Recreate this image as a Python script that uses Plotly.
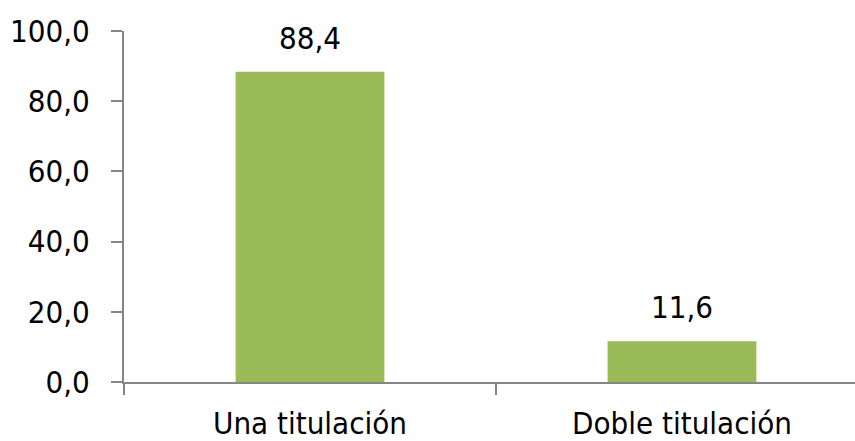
import plotly.graph_objects as go

categories = ["Una titulación", "Doble titulación"]
values = [88.4, 11.6]
value_labels = ["88,4", "11,6"]
y_ticks = [0, 20, 40, 60, 80, 100]
y_tick_labels = ["0,0", "20,0", "40,0", "60,0", "80,0", "100,0"]

FONT = "Liberation Sans Narrow, Arial Narrow, DejaVu Sans Condensed, sans-serif"
FS = 31

fig = go.Figure(go.Bar(
    x=categories, y=values, width=0.4,
    marker=dict(color="#9BBB59", line=dict(width=0)),
    hoverinfo="skip",
))

for cat, v, lab in zip(categories, values, value_labels):
    fig.add_annotation(
        x=cat, y=v, text=lab, showarrow=False,
        xanchor="center", yanchor="bottom", yshift=14,
        font=dict(family=FONT, size=FS, color="#000000"),
    )

fig.update_layout(
    width=855, height=441,
    margin=dict(l=124, r=0, t=31, b=59),
    paper_bgcolor="white", plot_bgcolor="white",
    showlegend=False,
    font=dict(family=FONT, size=FS, color="#000000"),
)
fig.update_xaxes(
    type="category",
    range=[-0.5, -0.5 + 731 / 372],
    showline=True, linecolor="#868686", linewidth=2,
    ticks="outside", ticklen=11, tickwidth=2, tickcolor="#868686",
    tickson="boundaries", showgrid=False, zeroline=False,
    automargin=False, ticklabelstandoff=13,
    tickfont=dict(family=FONT, size=FS, color="#000000"),
)
fig.update_yaxes(
    range=[0, 100],
    tickmode="array", tickvals=y_ticks, ticktext=y_tick_labels,
    showline=True, linecolor="#868686", linewidth=2,
    ticks="outside", ticklen=11, tickwidth=2, tickcolor="#868686",
    showgrid=False, zeroline=False, ticklabelstandoff=15,
    automargin=False,
    tickfont=dict(family=FONT, size=FS, color="#000000"),
)

fig.write_html(
    "out.html",
    config={"displayModeBar": False},
    post_script="document.body.style.margin='0';document.body.style.overflow='hidden';",
)
